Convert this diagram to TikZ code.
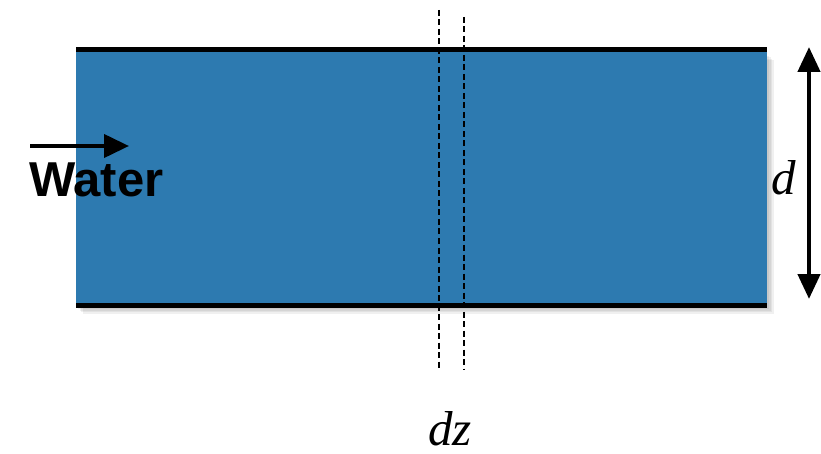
\documentclass[tikz,border=0pt]{standalone}
\usepackage{fontspec}
\setmainfont{Liberation Serif}
\newfontfamily\labsans{Liberation Sans}
\usetikzlibrary{arrows.meta}
\definecolor{water}{RGB}{45,122,176}
\tikzset{
  wall/.style={line width=5pt},
  cut/.style={line width=2.8pt, dash pattern=on 6pt off 3.5pt},
  bigarrow/.style={line width=4.5pt, {Triangle[length=25pt,width=22pt]}-{Triangle[length=25pt,width=22pt]}},
  flowarrow/.style={line width=4pt, -{Triangle[length=25pt,width=23pt]}},
  mathlab/.style={font=\fontsize{49}{50}\selectfont\itshape, inner sep=0pt}
}
\begin{document}
\begin{tikzpicture}[x=1pt,y=-1pt]
\useasboundingbox (0,0) rectangle (821,454);
% soft shadow
\foreach \s in {0,1.5,3,4.5}{
  \fill[black, opacity=0.06] (78+\s,56+\s) rectangle (769+\s,309+\s);
}
\node[name=slab, fill=water, minimum width=691pt, minimum height=255pt, anchor=north west, inner sep=0pt, outer sep=0pt] at (76,50) {};
\draw[wall] (slab.north west) -- (slab.north east);
\draw[wall] (slab.south west) -- (slab.south east);
% dz cut lines
\coordinate (c1t) at (439,10);
\coordinate (c1b) at (439,370);
\coordinate (c2t) at (464,17);
\coordinate (c2b) at (464,370);
\draw[cut] (c1t) -- (c1b);
\draw[cut] (c2t) -- (c2b);
\node[mathlab, anchor=base] (dz) at (450,445) {dz};
% d arrow
\coordinate (dt) at (809,47);
\coordinate (db) at (809,299);
\draw[bigarrow] (dt) -- (db);
\node[mathlab, anchor=base east] (d) at (796,195) {d};
% water
\coordinate (wa) at (30,146);
\coordinate (wb) at (129,146);
\draw[flowarrow] (wa) -- (wb);
\node[font=\labsans\bfseries\fontsize{49}{50}\selectfont, anchor=base west, inner sep=0pt] (water) at (29,197) {Water};
\end{tikzpicture}
\end{document}
